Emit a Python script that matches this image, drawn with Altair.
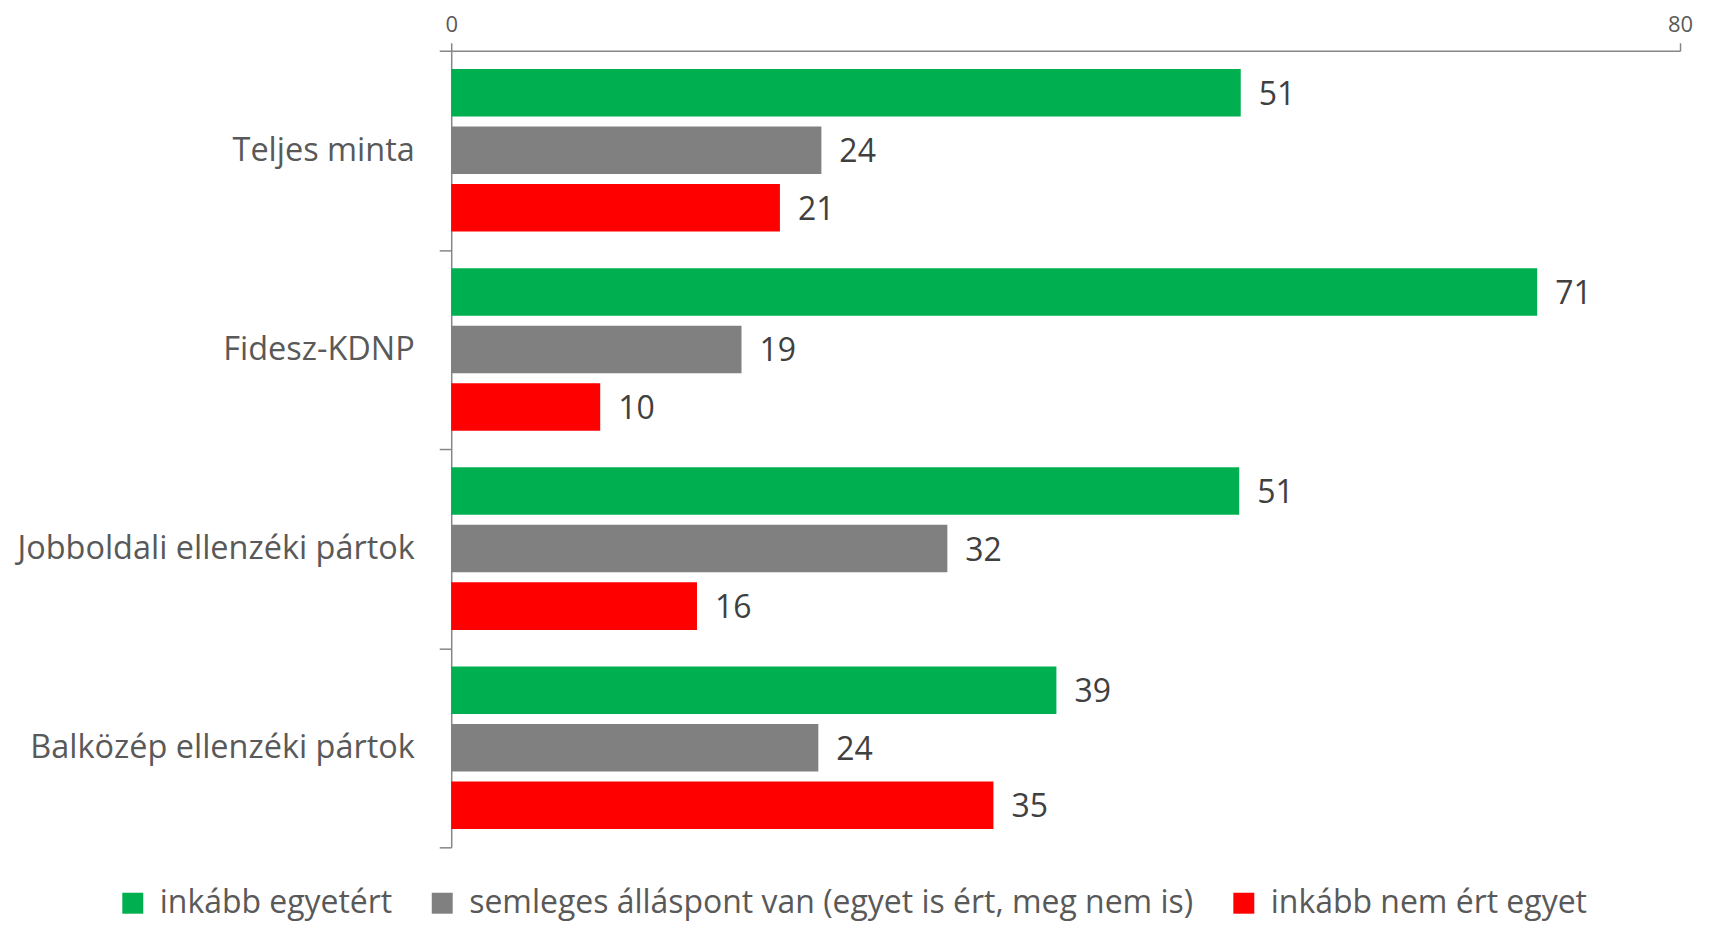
import altair as alt
import pandas as pd

categories = ["Teljes minta", "Fidesz-KDNP", "Jobboldali ellenzéki pártok", "Balközép ellenzéki pártok"]
series = ["inkább egyetért", "semleges álláspont van (egyet is ért, meg nem is)", "inkább nem ért egyet"]
colors = ["#00B050", "#808080", "#FF0000"]

# values; labels as printed
agree = [51.4, 70.7, 51.3, 39.4]
neutral = [24.1, 18.9, 32.3, 23.9]
disagree = [21.4, 9.7, 16.0, 35.3]
agree_lbl = ["51", "71", "51", "39"]
neutral_lbl = ["24", "19", "32", "24"]
disagree_lbl = ["21", "10", "16", "35"]

rows = []
for i, c in enumerate(categories):
    for s, vals, lbls in zip(series, [agree, neutral, disagree], [agree_lbl, neutral_lbl, disagree_lbl]):
        rows.append({"cat": c, "series": s, "value": vals[i], "label": lbls[i]})
df = pd.DataFrame(rows)

FONT = "Open Sans"
AXIS_COLOR = "#868686"

y_enc = alt.Y("cat:N", sort=categories, title=None,
              scale=alt.Scale(paddingInner=0, paddingOuter=0),
              axis=alt.Axis(labelFontSize=32.5, labelColor="#595959", labelFont=FONT,
                            tickBand="extent", tickSize=12, tickColor=AXIS_COLOR, tickWidth=1.5,
                            domainColor=AXIS_COLOR, domainWidth=1.5, labelPadding=25,
                            labelLimit=600, minExtent=444, maxExtent=444))
yoff_enc = alt.YOffset("series:N", sort=series,
                       scale=alt.Scale(paddingInner=0.174, paddingOuter=0.318))
x_enc = alt.X("value:Q", title=None,
              scale=alt.Scale(domain=[0, 80], nice=False),
              axis=alt.Axis(orient="top", values=[0, 80], grid=False, labelFontSize=22,
                            labelColor="#595959", labelFont=FONT, tickSize=8, labelFlush=False,
                            tickColor=AXIS_COLOR, tickWidth=1.5, domainColor=AXIS_COLOR,
                            domainWidth=1.5, labelPadding=6))

bars = alt.Chart(df).mark_bar().encode(
    x=x_enc,
    y=y_enc,
    yOffset=yoff_enc,
    color=alt.Color("series:N", sort=series, title=None,
                    scale=alt.Scale(domain=series, range=colors),
                    legend=alt.Legend(orient="none", legendX=-335, legendY=838,
                                      direction="horizontal", symbolType="square",
                                      symbolSize=441, symbolStrokeWidth=0, labelFontSize=32,
                                      labelFont=FONT, labelColor="#595959", labelOffset=11,
                                      columnPadding=34, padding=0, labelLimit=1000)),
)

text = alt.Chart(df).mark_text(align="left", baseline="middle", dx=18, dy=2, fontSize=32,
                               font=FONT, color="#404040").encode(
    x="value:Q",
    y=alt.Y("cat:N", sort=categories),
    yOffset=alt.YOffset("series:N", sort=series),
    text="label:N",
)

chart = alt.layer(bars, text).properties(
    width=1231, height=798,
    padding={"left": 0, "top": 5, "right": 10, "bottom": 6},
).configure_view(stroke=None)

chart.save("out.html", embed_options={"renderer": "svg", "actions": False})
